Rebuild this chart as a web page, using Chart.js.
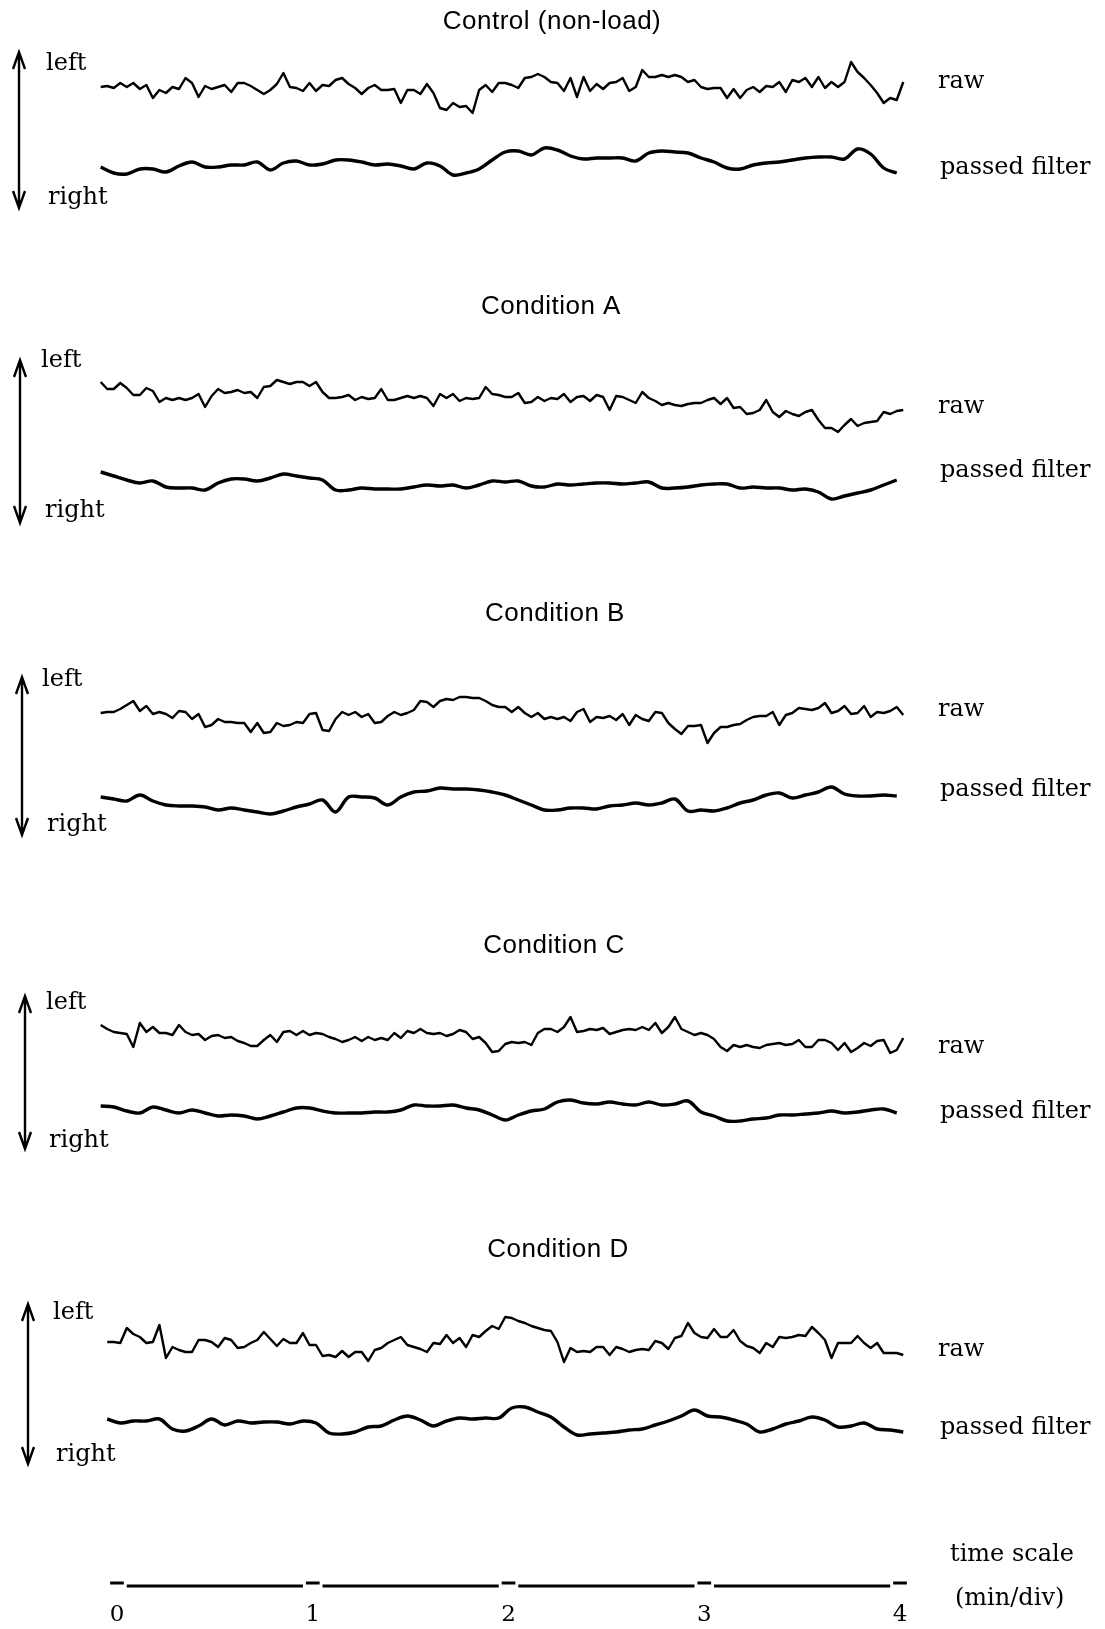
<!DOCTYPE html>
<html>
<head>
<meta charset="utf-8">
<script src="https://cdn.jsdelivr.net/npm/chart.js@4.4.1/dist/chart.umd.min.js"></script>
<style>
  html, body { margin: 0; padding: 0; background: #fff; }
  #wrap { position: relative; width: 1105px; height: 1629px; }
</style>
</head>
<body>
<div id="wrap"><canvas id="traces" width="1105" height="1629"></canvas></div>
<script>
// panel names and labels
var panelTitles = ["Control (non-load)", "Condition A", "Condition B", "Condition C", "Condition D"];
var traceLabels = ["raw", "passed filter"];
var directionLabels = ["left", "right"];
var timeTicks = [0, 1, 2, 3, 4];
var timeLabels = ["time scale", "(min/div)"];

// sampling: raw every 2 s, filtered every 4 s (seconds from the 0 mark)
var rawStepSec = 2;
var filtStepSec = 4;
var traceStartSec = [-5, -5, -5, -5, -3];

// deflection (+ = left, - = right), arbitrary units
var ctrlRaw = [3,4,2,7,3,7,1,5,-8,0,-3,3,1,12,7,-7,4,1,3,5,-2,7,7,4,0,-4,0,6,17,3,2,-1,7,-1,5,4,10,12,6,2,-4,2,5,0,0,1,-13,0,0,-4,6,-3,-18,-20,-13,-17,-16,-23,0,5,-2,7,7,5,2,12,13,16,13,8,7,-1,12,-7,13,-1,6,1,7,8,12,-1,3,20,13,13,15,13,15,13,8,10,3,1,2,2,-8,1,-8,0,3,-2,4,3,8,-2,10,8,12,3,13,2,8,3,8,28,18,12,5,-3,-13,-8,-10,8];
var ctrlFilt = [-4,-10,-11,-6,-6,-9,-3,1,-4,-4,-2,-2,1,-7,0,2,-2,-1,3,3,1,-2,-1,-3,-6,0,-3,-12,-10,-6,3,11,12,8,15,13,7,4,5,5,5,2,10,12,11,10,5,1,-5,-6,-2,0,1,3,5,6,6,4,14,9,-5,-10];

var aRaw = [13,6,6,12,7,0,0,7,4,-7,-3,-5,-3,-5,-3,1,-12,-1,6,2,3,5,2,3,-3,8,9,15,13,11,13,13,9,13,3,-3,-3,-2,0,-5,-2,-4,-3,6,-5,-5,-3,-1,-3,-1,-3,-11,1,-3,1,-6,-3,-4,-3,8,1,0,-2,-2,2,-8,-7,-2,-6,-3,-4,1,-7,-2,-1,-6,0,-2,-15,-1,-2,-5,-8,3,-3,-6,-10,-8,-10,-11,-9,-8,-8,-5,-3,-9,-3,-13,-12,-19,-18,-15,-5,-17,-22,-16,-19,-21,-17,-15,-25,-33,-33,-37,-30,-24,-31,-28,-27,-26,-17,-19,-16,-15];
var aFilt = [15,11,7,4,6,0,-1,-1,-3,4,8,8,6,9,13,11,9,7,-3,-3,-1,-2,-2,-2,0,2,1,2,-1,2,6,5,6,1,0,3,2,3,4,4,3,4,5,-1,-1,0,2,3,3,-1,0,-1,-1,-3,-2,-5,-12,-9,-6,-3,2,7];

var bRaw = [4,5,5,8,12,16,6,11,3,5,3,-1,6,5,-2,3,-10,-8,-2,-5,-5,-6,-6,-15,-6,-16,-15,-6,-9,-8,-5,-6,3,4,-13,-14,-2,5,2,5,0,3,-6,-5,1,5,2,4,7,16,15,10,16,18,17,20,20,19,19,16,12,10,10,5,10,4,0,4,-2,0,-2,0,-4,5,8,-5,0,-1,1,-3,3,-8,2,-2,-4,5,4,-6,-12,-17,-9,-9,-8,-26,-16,-10,-10,-8,-7,-3,0,1,1,5,-8,2,4,9,8,7,9,14,4,6,11,3,4,11,0,5,4,6,10,2];
var bFilt = [6,4,2,8,2,-2,-3,-3,-4,-7,-5,-7,-9,-11,-8,-4,-1,3,-9,6,6,5,-2,6,11,12,15,14,14,13,11,8,3,-2,-7,-7,-5,-5,-6,-3,-2,0,-2,0,4,-8,-7,-8,-5,0,3,8,10,5,8,11,16,9,7,7,8,7];

var cRaw = [13,9,6,5,4,-9,15,6,11,5,5,3,13,6,3,4,-2,2,3,0,1,-3,-5,-8,-8,-2,3,-4,6,7,3,7,3,5,4,1,-1,-4,-2,1,-3,1,-2,0,-2,5,0,7,5,9,5,4,5,2,4,8,6,-1,1,-5,-14,-13,-6,-4,-5,-4,-7,5,9,9,6,11,21,6,7,9,8,10,4,6,8,9,8,11,8,15,5,11,21,9,6,3,5,3,-1,-9,-13,-7,-9,-7,-9,-10,-7,-6,-5,-7,-6,-2,-9,-9,-2,-2,-5,-12,-5,-14,-10,-5,-8,-3,-2,-15,-12,0];
var cFilt = [6,5,1,-1,5,2,-1,2,-1,-4,-3,-4,-7,-4,0,4,4,1,-1,-1,-1,0,0,2,7,6,6,7,4,2,-3,-8,-3,1,3,10,12,9,8,10,8,7,10,7,8,11,0,-4,-9,-9,-7,-6,-3,-3,-2,-1,1,-1,0,2,3,-1];

var dRaw = [-2,-2,-3,12,6,3,-3,-2,15,-18,-7,-10,-12,-12,0,0,-2,-7,2,0,-8,-7,-3,0,8,1,-6,1,-3,-3,7,-5,-5,-16,-15,-17,-11,-17,-12,-12,-21,-10,-8,-3,0,3,-5,-7,-9,-12,-3,-4,5,-3,2,-7,5,3,9,14,11,23,22,19,17,14,12,10,9,-2,-22,-8,-12,-11,-12,-7,-7,-15,-7,-9,-12,-10,-9,-10,-1,-3,-9,2,4,17,7,3,2,11,3,3,10,-1,-6,-8,-13,-3,-7,3,2,3,5,4,13,7,0,-18,-3,-3,-3,4,-3,-8,-3,-13,-13,-13,-15];
var dFilt = [4,0,2,2,4,-6,-8,-3,4,-2,2,0,1,1,-1,2,0,-10,-11,-9,-4,-3,3,7,3,-3,2,5,4,5,5,15,16,11,6,-4,-12,-11,-10,-9,-7,-6,-2,2,7,13,7,6,3,-1,-9,-6,-1,2,6,3,-4,-3,0,-6,-7,-9];

var rawSeries = [ctrlRaw, aRaw, bRaw, cRaw, dRaw];
var filtSeries = [ctrlFilt, aFilt, bFilt, cFilt, dFilt];

// page layout (px)
var W = 1105, H = 1629;
var xAxisHeight = 40;
var plotBottom = H - xAxisHeight;
var pxPerMin = 195.75, zeroX = 117;
var xMin = -0.2, xMax = 4.4;
var ink = "#000";

var panelLayout = [
  { title: [552, 22],   raw: 90,   filt: 163,  arrow: [19, 52, 208],   left: [46, 64],   right: [48, 198],   rawLab: 82,   filtLab: 168 },
  { title: [551, 307],  raw: 395,  filt: 487,  arrow: [20, 360, 523],  left: [41, 361],  right: [45, 511],   rawLab: 407,  filtLab: 471 },
  { title: [555, 614],  raw: 717,  filt: 803,  arrow: [22, 677, 835],  left: [42, 680],  right: [47, 825],   rawLab: 710,  filtLab: 790 },
  { title: [554, 946],  raw: 1038, filt: 1112, arrow: [25, 996, 1149], left: [46, 1003], right: [49, 1141],  rawLab: 1047, filtLab: 1112 },
  { title: [558, 1250], raw: 1340, filt: 1423, arrow: [28, 1304, 1464], left: [53, 1313], right: [56, 1455], rawLab: 1350, filtLab: 1428 }
];
var timeBarY = 1586;

function toPoints(vals, startSec, stepSec) {
  return vals.map(function (v, i) {
    return { x: (startSec + i * stepSec) / 60, y: v };
  });
}

// time scale bar: short raised mark at each minute, long bar between
var timeBar = [];
timeTicks.forEach(function (t, i) {
  timeBar.push({ x: t - 0.035, y: 3 }, { x: t + 0.035, y: 3 }, { x: t + 0.04, y: null });
  if (i < timeTicks.length - 1) {
    timeBar.push({ x: t + 0.05, y: 0 }, { x: t + 0.95, y: 0 }, { x: t + 0.96, y: null });
  }
});

var datasets = [];
var scales = {
  x: {
    type: "linear",
    axis: "x",
    min: xMin,
    max: xMax,
    afterBuildTicks: function (s) {
      s.ticks = timeTicks.map(function (v) { return { value: v }; });
    },
    afterFit: function (s) { s.height = xAxisHeight; },
    grid: { display: false, drawTicks: false },
    border: { display: false },
    ticks: {
      color: ink,
      padding: 12,
      maxRotation: 0,
      autoSkip: false,
      font: { family: "'DejaVu Serif', 'Liberation Serif', serif", size: 23 }
    }
  }
};

// one hidden vertical axis per trace, so each trace sits on its own baseline
function addAxis(id, base) {
  scales[id] = { type: "linear", axis: "y", position: "left", display: false, min: base - plotBottom, max: base };
}

panelLayout.forEach(function (p, i) {
  addAxis("yRaw" + i, p.raw);
  addAxis("yFilt" + i, p.filt);
  datasets.push({
    label: panelTitles[i] + " raw",
    data: toPoints(rawSeries[i], traceStartSec[i], rawStepSec),
    yAxisID: "yRaw" + i,
    borderColor: ink,
    borderWidth: 2.4,
    tension: 0,
    borderJoinStyle: "round",
    pointRadius: 0
  });
  datasets.push({
    label: panelTitles[i] + " passed filter",
    data: toPoints(filtSeries[i], traceStartSec[i], filtStepSec),
    yAxisID: "yFilt" + i,
    borderColor: ink,
    borderWidth: 3.4,
    tension: 0.35,
    borderJoinStyle: "round",
    pointRadius: 0
  });
});
addAxis("yTime", timeBarY);
datasets.push({
  label: "time scale",
  data: timeBar,
  yAxisID: "yTime",
  borderColor: ink,
  borderWidth: 2.8,
  spanGaps: false,
  pointRadius: 0
});

function drawArrow(ctx, x, y1, y2) {
  ctx.lineWidth = 2.4;
  ctx.beginPath();
  ctx.moveTo(x, y1); ctx.lineTo(x, y2);
  ctx.moveTo(x - 6, y1 + 17); ctx.lineTo(x, y1); ctx.lineTo(x + 6, y1 + 17);
  ctx.moveTo(x - 6, y2 - 17); ctx.lineTo(x, y2); ctx.lineTo(x + 6, y2 - 17);
  ctx.stroke();
}

var annotations = {
  id: "annotations",
  afterDraw: function (chart) {
    var ctx = chart.ctx;
    var serif = "24px 'DejaVu Serif', 'Liberation Serif', serif";
    var sans = "26px 'Liberation Sans', Arial, sans-serif";
    ctx.save();
    ctx.fillStyle = ink;
    ctx.strokeStyle = ink;
    ctx.textBaseline = "middle";
    panelLayout.forEach(function (p, i) {
      ctx.font = sans;
      ctx.textAlign = "center";
      ctx.letterSpacing = "0.5px";
      ctx.fillText(panelTitles[i], p.title[0], p.title[1]);
      ctx.letterSpacing = "0px";
      ctx.font = serif;
      ctx.textAlign = "left";
      ctx.fillText(directionLabels[0], p.left[0], p.left[1]);
      ctx.fillText(directionLabels[1], p.right[0], p.right[1]);
      ctx.fillText(traceLabels[0], 938, p.rawLab);
      ctx.fillText(traceLabels[1], 940, p.filtLab);
      drawArrow(ctx, p.arrow[0], p.arrow[1], p.arrow[2]);
    });
    ctx.font = serif;
    ctx.textAlign = "left";
    ctx.fillText(timeLabels[0], 950, 1555);
    ctx.fillText(timeLabels[1], 955, 1599);
    ctx.restore();
  }
};

new Chart(document.getElementById("traces").getContext("2d"), {
  type: "line",
  data: { datasets: datasets },
  options: {
    responsive: false,
    devicePixelRatio: 1,
    animation: false,
    events: [],
    layout: {
      padding: {
        left: zeroX + xMin * pxPerMin,
        right: W - (zeroX + xMax * pxPerMin),
        top: 0,
        bottom: 0
      }
    },
    plugins: { legend: { display: false }, tooltip: { enabled: false } },
    scales: scales
  },
  plugins: [annotations]
});
</script>
</body>
</html>
